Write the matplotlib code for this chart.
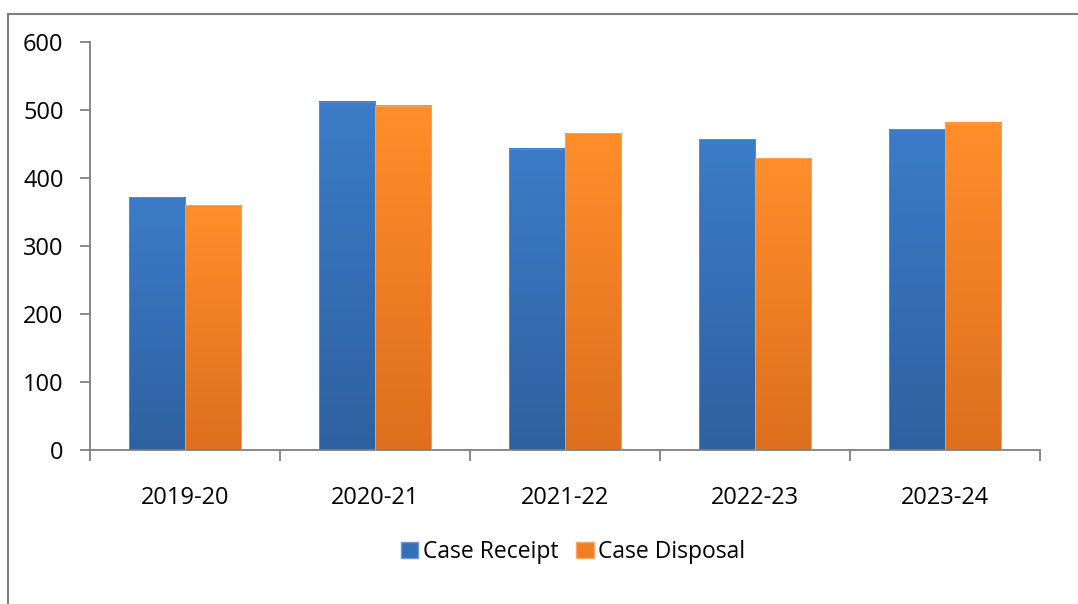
import numpy as np
import matplotlib.pyplot as plt
from matplotlib.lines import Line2D
from matplotlib.patches import Patch
from matplotlib.colors import LinearSegmentedColormap

# datos
anios = ['2019-20', '2020-21', '2021-22', '2022-23', '2023-24']
case_receipt = [372, 512, 443, 457, 472]
case_disposal = [360, 506, 466, 429, 481]

plt.rcParams['font.family'] = ['Open Sans', 'DejaVu Sans']

fig = plt.figure(figsize=(10.78, 6.04), dpi=100)
ax = fig.add_axes([90/1078, 1-450/604, 950/1078, 408/604])

# borde del grafico (cortado a la derecha y abajo)
fig.add_artist(Line2D([8/1078, 8/1078], [0, 1-14/604], color='#7f7f7f', lw=1.5))
fig.add_artist(Line2D([8/1078, 1], [1-14/604, 1-14/604], color='#7f7f7f', lw=1.5))

x = np.arange(len(anios))
ancho = 0.295

azul = LinearSegmentedColormap.from_list('azul', ['#2e61a0', '#3c7cc8'])
naranja = LinearSegmentedColormap.from_list('naranja', ['#dd6f1e', '#ff8e2b'])
grad = np.linspace(0, 1, 256).reshape(-1, 1)

def barras(pos, valores, cmap, borde):
    bars = ax.bar(pos, valores, ancho, color='none', edgecolor='none')
    for b in bars:
        x0, w, h = b.get_x(), b.get_width(), b.get_height()
        ax.imshow(grad, extent=[x0, x0 + w, 0, h], origin='lower',
                  cmap=cmap, aspect='auto', zorder=2)
        ax.add_patch(plt.Rectangle((x0, 0), w, h, fill=False,
                                   edgecolor=borde, lw=0.6, zorder=3))

barras(x - ancho/2, case_receipt, azul, '#5a8fd0')
barras(x + ancho/2, case_disposal, naranja, '#f7a460')

ax.set_xlim(-0.5, len(anios) - 0.5)
ax.set_ylim(0, 600)
ax.set_yticks(range(0, 601, 100))
ax.set_xticks(x)
ax.set_xticklabels(anios)
ax.set_xticks(np.arange(-0.5, len(anios), 1), minor=True)
ax.tick_params(axis='x', which='major', length=0, pad=26, labelsize=17)
ax.tick_params(axis='x', which='minor', length=8, color='#7f7f7f', width=1.3, direction='out')
ax.tick_params(axis='y', length=7, color='#7f7f7f', width=1.3, pad=12, labelsize=17)

for lado in ['top', 'right']:
    ax.spines[lado].set_visible(False)
for lado in ['left', 'bottom']:
    ax.spines[lado].set_color('#7f7f7f')
    ax.spines[lado].set_linewidth(1.3)

# leyenda
handles = [Patch(facecolor='#3470b8', edgecolor='#6a9ad6', label='Case Receipt'),
           Patch(facecolor='#f07e24', edgecolor='#f9a868', label='Case Disposal')]
fig.legend(handles=handles, loc='center', bbox_to_anchor=(573/1078, 1-552/604),
           ncol=2, frameon=False, fontsize=16.5, handlelength=0.75, handleheight=0.75,
           handletextpad=0.2, columnspacing=0.8)

plt.savefig('out.png', dpi=100)
